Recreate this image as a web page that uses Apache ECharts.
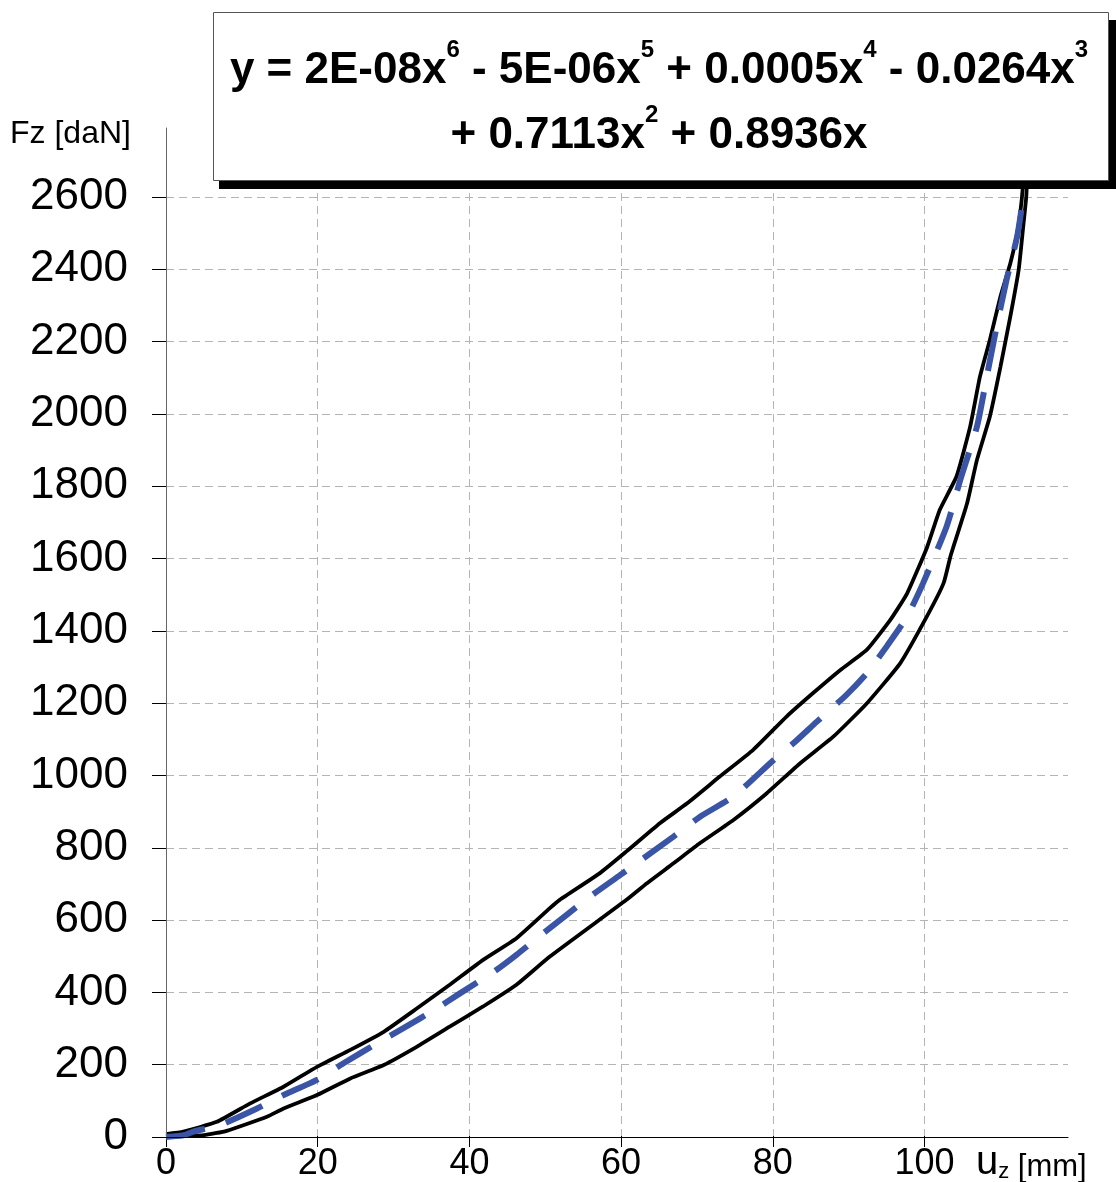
<!DOCTYPE html>
<html><head><meta charset="utf-8">
<script src="https://cdn.jsdelivr.net/npm/echarts@6/dist/echarts.min.js"></script>
<style>html,body{margin:0;padding:0;background:#fff}#c{width:1116px;height:1182px}</style>
</head><body><div id="c"></div>
<script>
// Loading curve (upper black line)
const upperX = [0, 2.3, 6.7, 11.1, 15.5, 19.9, 24.3, 28.7, 33.1, 37.4, 41.8, 46.2, 50.6, 51.9, 57.2, 60.7, 65.1, 68.7, 73.0, 77.4, 81.8, 85.3, 88.9, 92.4, 95.5, 97.7, 100.3, 102.0, 104.2, 106.0, 107.3, 108.6, 110.0, 111.3, 112.2, 112.8, 113.2];
const upperY = [8, 15, 42, 93, 139, 194, 241, 291, 356, 421, 490, 550, 633, 656, 730, 790, 868, 923, 997, 1071, 1163, 1228, 1292, 1348, 1431, 1504, 1630, 1735, 1827, 1965, 2104, 2205, 2325, 2417, 2500, 2593, 2700];
// Unloading curve (lower black line)
const lowerX = [0, 2, 5, 8, 13.3, 15.5, 19.9, 24.3, 28.7, 33.1, 37.4, 41.8, 46.2, 50.6, 60.7, 63.4, 66.9, 70.4, 74.8, 79.2, 83.6, 88.0, 92.4, 96.8, 100.3, 102.5, 103.4, 103.8, 105.6, 106.9, 108.6, 110.0, 111.3, 112.4, 113.0, 113.4, 113.6];
const lowerY = [0, 2, 5, 17, 56, 79, 116, 162, 199, 250, 305, 361, 421, 499, 656, 702, 757, 813, 877, 951, 1034, 1108, 1200, 1311, 1440, 1532, 1606, 1633, 1753, 1873, 1993, 2131, 2270, 2399, 2519, 2602, 2700];
// Trend line (blue dashed)
const trendX = [0, 2.5, 3.6, 7.1, 12.0, 15.5, 19.9, 23.4, 28.2, 31.3, 35.7, 38.8, 43.2, 46.2, 50.0, 55.9, 59.9, 66.9, 70.4, 74.8, 80.1, 82.7, 85.8, 89.7, 92.4, 95.0, 97.7, 99.8, 102.9, 104.7, 106.9, 108.2, 109.5, 110.8, 112.2, 113.0, 113.5];
const trendY = [0, 6, 15, 33, 79, 116, 158, 204, 264, 301, 356, 398, 457, 504, 568, 665, 725, 831, 886, 942, 1043, 1089, 1149, 1223, 1283, 1357, 1440, 1532, 1689, 1818, 1965, 2104, 2242, 2371, 2491, 2602, 2700];

const yAxisName = 'Fz [daN]';
const xAxisName = ['u', 'z', ' [mm]'];
const eqLine1 = [['y = 2E-08x', '6'], [' - 5E-06x', '5'], [' + 0.0005x', '4'], [' - 0.0264x', '3']];
const eqLine2 = [['+ 0.7113x', '2'], [' + 0.8936x', '']];

const FONT = "'Liberation Sans', Arial, Helvetica, sans-serif";
const pair = (xs, ys) => xs.map((x, i) => [x, ys[i]]);
const eqText = (parts) => parts.map(p => '{m|' + p[0] + '}' + (p[1] ? '{s|' + p[1] + '}' : '')).join('');
const plain = v => String(v);

const chart = echarts.init(document.getElementById('c'), null, {renderer: 'canvas'});
const gridLine = {show: true, lineStyle: {color: '#b4b4b4', width: 1, type: [8, 5]}};
const option = {
  animation: false,
  backgroundColor: '#fff',
  grid: [
    {left: 166, top: 128, width: 902, height: 1009},
    {left: 166, top: 128, width: 758.5, height: 1009},
    {left: 166, top: 197, width: 902, height: 940}
  ],
  xAxis: [
    {gridIndex: 0, type: 'value', min: 0, max: 118.9, z: 5,
      axisLine: {show: true, onZero: false, lineStyle: {color: '#000', width: 1}},
      axisTick: {show: false}, axisLabel: {show: false}, splitLine: {show: false}},
    {gridIndex: 1, type: 'value', min: 0, max: 100, interval: 20,
      axisLine: {show: false, onZero: false},
      axisTick: {show: true, inside: false, length: 11, lineStyle: {color: '#000', width: 1}},
      axisLabel: {show: true, fontSize: 36, color: '#000', margin: 10, fontFamily: FONT, formatter: plain},
      splitLine: gridLine},
    {gridIndex: 2, type: 'value', min: 0, max: 1, show: false}
  ],
  yAxis: [
    {gridIndex: 0, type: 'value', min: 0, max: 2791, z: 5,
      axisLine: {show: true, onZero: false, lineStyle: {color: '#666', width: 1}},
      axisTick: {show: false}, axisLabel: {show: false}, splitLine: {show: false}},
    {gridIndex: 1, type: 'value', min: 0, max: 1, show: false},
    {gridIndex: 2, type: 'value', min: 0, max: 2600, interval: 200,
      axisLine: {show: false, onZero: false},
      axisTick: {show: true, inside: false, length: 14, lineStyle: {color: '#000', width: 1}},
      axisLabel: {show: true, fontSize: 44, color: '#000', margin: 38, fontFamily: FONT, formatter: plain},
      splitLine: gridLine}
  ],
  series: [
    {type: 'line', xAxisIndex: 0, yAxisIndex: 0, data: pair(upperX, upperY), symbol: 'none', z: 3, smooth: 0.15,
      lineStyle: {color: '#000', width: 3.8}},
    {type: 'line', xAxisIndex: 0, yAxisIndex: 0, data: pair(lowerX, lowerY), symbol: 'none', z: 3, smooth: 0.15,
      lineStyle: {color: '#000', width: 3.8}},
    {type: 'line', xAxisIndex: 0, yAxisIndex: 0, data: pair(trendX, trendY), symbol: 'none', z: 4, smooth: 0.2,
      lineStyle: {color: '#3b55a6', width: 6, type: [40, 22], cap: 'butt'}}
  ],
  graphic: [
    {type: 'text', z: 50, style: {x: 10, y: 118, text: yAxisName, fill: '#000', font: '32px ' + FONT,
      textAlign: 'left', textVerticalAlign: 'top', align: 'left', verticalAlign: 'top'}},
    {type: 'text', z: 50, style: {x: 976, y: 1183, fill: '#000',
      text: '{u|' + xAxisName[0] + '}{z|' + xAxisName[1] + '}{m|' + xAxisName[2] + '}',
      textAlign: 'left', textVerticalAlign: 'bottom', align: 'left', verticalAlign: 'bottom',
      rich: {
        u: {fontSize: 40, fontFamily: FONT, lineHeight: 40, verticalAlign: 'bottom', fill: '#000', color: '#000'},
        z: {fontSize: 22, fontFamily: FONT, lineHeight: 22, verticalAlign: 'bottom', fill: '#000', color: '#000'},
        m: {fontSize: 31, fontFamily: FONT, lineHeight: 31, verticalAlign: 'bottom', fill: '#000', color: '#000'}
      }}},
    {type: 'rect', z: 100, shape: {x: 219, y: 20, width: 898, height: 169}, style: {fill: '#000'}},
    {type: 'rect', z: 101, shape: {x: 213.5, y: 12.5, width: 895, height: 168}, style: {fill: '#fff', stroke: '#555', lineWidth: 1}},
    {type: 'text', z: 102, style: {x: 659, y: 38, fill: '#000',
      text: eqText(eqLine1) + '\n' + eqText(eqLine2),
      textAlign: 'center', textVerticalAlign: 'top', align: 'center', verticalAlign: 'top',
      rich: {
        m: {fontSize: 44, fontWeight: 'bold', fontFamily: FONT, lineHeight: 65, fill: '#000', color: '#000'},
        s: {fontSize: 24, fontWeight: 'bold', fontFamily: FONT, lineHeight: 32, verticalAlign: 'top', fill: '#000', color: '#000'}
      }}}
  ]
};
chart.setOption(option);
</script>
</body></html>
